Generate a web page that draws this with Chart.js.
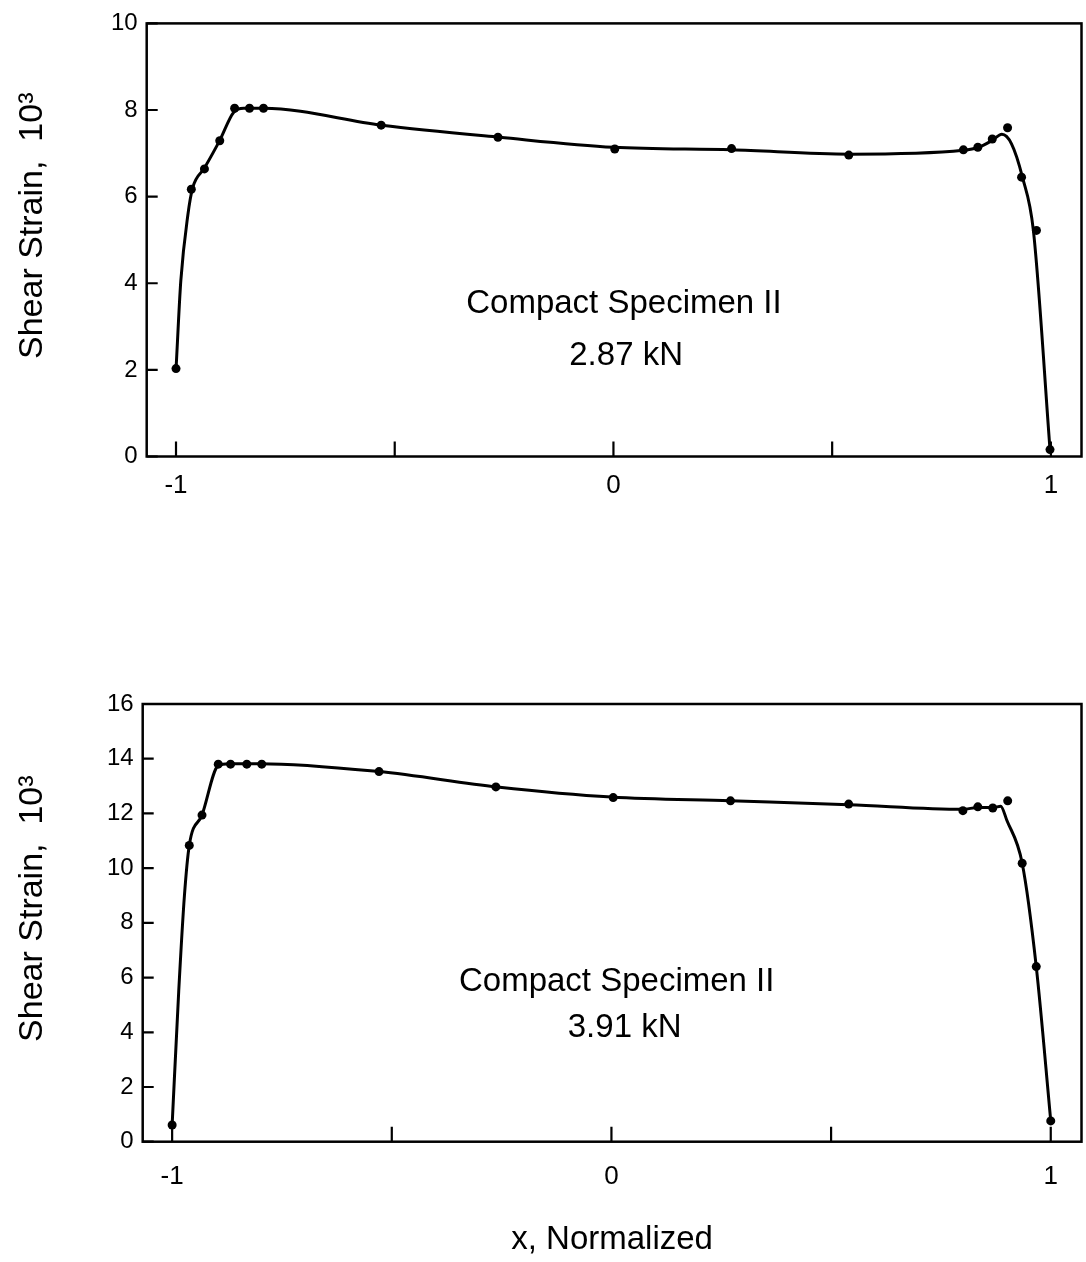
<!DOCTYPE html>
<html>
<head>
<meta charset="utf-8">
<title>Shear strain, compact specimen II</title>
<script src="https://cdn.jsdelivr.net/npm/chart.js@4"></script>
<style>
  html, body { margin: 0; padding: 0; background: #fff; }
  body { width: 1086px; height: 1262px; position: relative; overflow: hidden; }
  .panel { position: absolute; left: 0; width: 1086px; }
  #topWrap { top: 0; height: 500px; }
  #botWrap { top: 680px; height: 582px; }
</style>
</head>
<body>
<div class="panel" id="topWrap"><canvas id="topChart" width="1086" height="500"></canvas></div>
<div class="panel" id="botWrap"><canvas id="botChart" width="1086" height="582"></canvas></div>
<script>
// ---- data ----
// x axis ticks (shared)
const xTickValues = [-1, -0.5, 0, 0.5, 1];
const xTickLabels = ['-1', '', '0', '', '1'];

// upper panel, 2.87 kN : measured points
const topDotX = [-1.0, -0.965, -0.935, -0.90, -0.866, -0.832, -0.80, -0.531, -0.264, 0.003, 0.27, 0.538, 0.80, 0.833, 0.866, 0.901, 0.933, 0.967, 0.998];
const topDotY = [2.03, 6.17, 6.64, 7.29, 8.04, 8.04, 8.04, 7.65, 7.37, 7.10, 7.11, 6.96, 7.08, 7.14, 7.33, 7.59, 6.45, 5.22, 0.16];
// upper panel : faired curve
const topCurveX = [-1.0, -0.989, -0.973, -0.962, -0.935, -0.90, -0.868, -0.845, -0.80, -0.53, -0.26, 0.0, 0.27, 0.54, 0.80, 0.835, 0.866, 0.888, 0.91, 0.935, 0.96, 0.998];
const topCurveY = [2.0, 4.06, 5.57, 6.2, 6.66, 7.3, 7.95, 8.04, 8.04, 7.65, 7.37, 7.14, 7.08, 6.98, 7.07, 7.14, 7.3, 7.44, 7.22, 6.45, 5.22, 0.16];

// lower panel, 3.91 kN : measured points
const botDotX = [-1.0, -0.961, -0.932, -0.895, -0.867, -0.830, -0.796, -0.529, -0.263, 0.004, 0.271, 0.540, 0.80, 0.834, 0.868, 0.902, 0.935, 0.967, 1.0];
const botDotY = [0.61, 10.83, 11.94, 13.8, 13.8, 13.8, 13.8, 13.53, 12.97, 12.58, 12.46, 12.34, 12.1, 12.24, 12.2, 12.46, 10.18, 6.4, 0.76];
// lower panel : faired curve
const botCurveX = [-1.0, -0.985, -0.972, -0.961, -0.932, -0.895, -0.87, -0.80, -0.53, -0.26, 0.0, 0.27, 0.54, 0.80, 0.835, 0.87, 0.886, 0.90, 0.935, 0.967, 1.0];
const botCurveY = [0.61, 5.5, 9.0, 10.83, 11.94, 13.75, 13.82, 13.82, 13.53, 12.97, 12.6, 12.46, 12.32, 12.15, 12.22, 12.22, 12.26, 11.75, 10.18, 6.4, 0.76];

const specimen = 'Compact Specimen II';
const topLoad = '2.87 kN';
const botLoad = '3.91 kN';

// ---- helpers ----
const FONT = "'Liberation Sans', Arial, Helvetica, sans-serif";
const toXY = (xs, ys) => xs.map((x, i) => ({ x: x, y: ys[i] }));

// frame, inward ticks and the two text lines inside the plot
const framePlugin = {
  id: 'frame',
  afterDatasetsDraw(chart, args, opts) {
    const ctx = chart.ctx;
    const a = chart.chartArea;
    const xs = chart.scales.x, ys = chart.scales.y;
    ctx.save();
    ctx.strokeStyle = '#000';
    ctx.lineWidth = 2.5;
    ctx.strokeRect(a.left, a.top, a.right - a.left, a.bottom - a.top);

    ctx.lineWidth = 2.2;
    ctx.beginPath();
    ys.ticks.forEach(t => {
      const py = ys.getPixelForValue(t.value);
      ctx.moveTo(a.left, py);
      ctx.lineTo(a.left + 11, py);
    });
    xs.ticks.forEach(t => {
      const px = xs.getPixelForValue(t.value);
      ctx.moveTo(px, a.bottom);
      ctx.lineTo(px, a.bottom - 15);
    });
    ctx.stroke();

    ctx.fillStyle = '#000';
    ctx.textAlign = 'center';
    ctx.textBaseline = 'alphabetic';
    ctx.font = '33px ' + FONT;
    (opts.notes || []).forEach(n => {
      ctx.fillText(n.text, xs.getPixelForValue(n.x), ys.getPixelForValue(n.y));
    });
    ctx.restore();
  }
};

function makePanel(canvasId, cfg) {
  const ctx = document.getElementById(canvasId).getContext('2d');
  return new Chart(ctx, {
    type: 'scatter',
    data: {
      datasets: [
        {
          label: 'curve',
          data: toXY(cfg.curveX, cfg.curveY),
          showLine: true,
          borderColor: '#000',
          borderWidth: 3,
          pointRadius: 0,
          cubicInterpolationMode: 'monotone',
          fill: false
        },
        {
          label: 'measured',
          data: toXY(cfg.dotX, cfg.dotY),
          showLine: false,
          pointRadius: 4.5,
          pointBackgroundColor: '#000',
          pointBorderColor: '#000',
          pointBorderWidth: 0
        }
      ]
    },
    options: {
      responsive: false,
      animation: false,
      layout: { padding: cfg.padding },
      plugins: {
        legend: { display: false },
        tooltip: { enabled: false },
        frame: { notes: cfg.notes }
      },
      scales: {
        x: {
          type: 'linear',
          min: -1.067,
          max: 1.07,
          grid: { display: false, drawTicks: false },
          border: { display: false },
          afterBuildTicks: s => { s.ticks = xTickValues.map(v => ({ value: v })); },
          afterFit: s => { s.height = cfg.xAxisHeight; },
          ticks: {
            autoSkip: false,
            maxRotation: 0,
            padding: cfg.xTickPad,
            color: '#000',
            font: { family: FONT, size: 26 },
            callback: (v, i) => xTickLabels[i]
          },
          title: {
            display: cfg.showXTitle,
            text: 'x, Normalized',
            color: '#000',
            font: { family: FONT, size: 33 },
            padding: { top: 0, bottom: 2 }
          }
        },
        y: {
          type: 'linear',
          min: 0,
          max: cfg.yMax,
          grid: { display: false, drawTicks: false },
          border: { display: false },
          afterFit: s => { s.width = cfg.yAxisWidth; },
          ticks: {
            stepSize: 2,
            padding: 9,
            color: '#000',
            font: { family: FONT, size: 24 }
          },
          title: {
            display: true,
            text: '   Shear Strain,  10³',
            color: '#000',
            font: { family: FONT, size: 34 },
            padding: { top: 12, bottom: 0 }
          }
        }
      }
    },
    plugins: [framePlugin]
  });
}

makePanel('topChart', {
  dotX: topDotX, dotY: topDotY,
  curveX: topCurveX, curveY: topCurveY,
  yMax: 10,
  padding: { top: 20, right: 1, left: 0, bottom: 0 },
  yAxisWidth: 146.7,
  xAxisHeight: 43.5,
  xTickPad: 14,
  showXTitle: false,
  notes: [
    { text: specimen, x: 0.024, y: 3.32 },
    { text: topLoad, x: 0.029, y: 2.12 }
  ]
});

makePanel('botChart', {
  dotX: botDotX, dotY: botDotY,
  curveX: botCurveX, curveY: botCurveY,
  yMax: 16,
  padding: { top: 24, right: 4.3, left: 0, bottom: 0 },
  yAxisWidth: 142.7,
  xAxisHeight: 120.3,
  xTickPad: 20,
  showXTitle: true,
  notes: [
    { text: specimen, x: 0.012, y: 5.52 },
    { text: botLoad, x: 0.03, y: 3.81 }
  ]
});
</script>
</body>
</html>
